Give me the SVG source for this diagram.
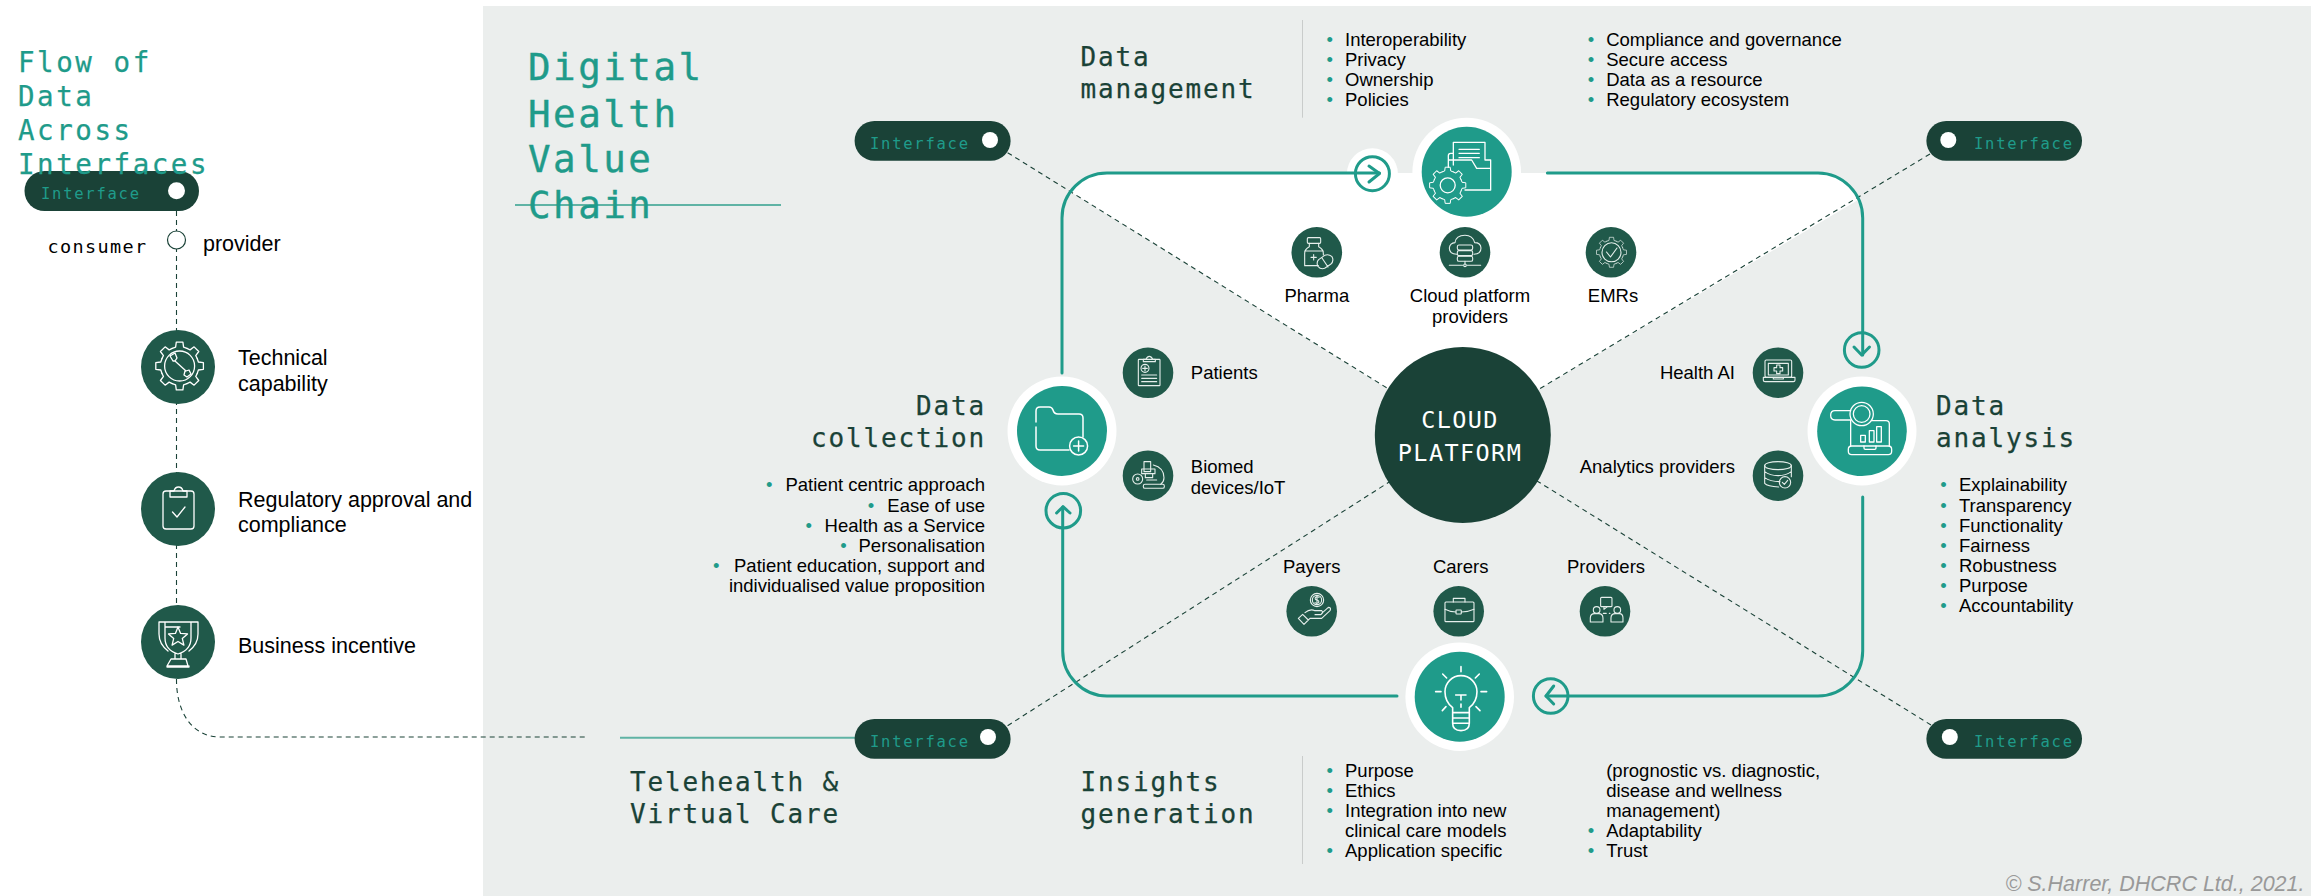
<svg xmlns="http://www.w3.org/2000/svg" width="2323" height="896" viewBox="0 0 2323 896">
<style>
text{font-family:"Liberation Sans",Arial,sans-serif;font-size:18.5px;fill:#000}
.m{font-family:"DejaVu Sans Mono","Liberation Mono",monospace}
.big{font-size:37.5px;letter-spacing:2.5px;fill:#1f9b8a;stroke:#1f9b8a;stroke-width:.4}
.side{font-size:27.5px;letter-spacing:2.55px;fill:#1f9b8a;stroke:#1f9b8a;stroke-width:.25}
.sec{font-size:26px;letter-spacing:1.85px;fill:#1a4237;stroke:#1a4237;stroke-width:.25}
.if{font-size:15.5px;letter-spacing:1.75px;fill:#1f9b8a}
.cp{font-size:23.5px;letter-spacing:1.4px;fill:#fff}
.con{font-size:18.5px;letter-spacing:1.36px}
.l{font-size:21.5px}
.b{fill:#1f9b8a}
.pill{fill:#1a4237}
.dot{fill:#fff}
.dash{fill:none;stroke:#1a4237;stroke-width:1.1;stroke-dasharray:5 4}
.tl{fill:none;stroke:#1f9b8a;stroke-width:3;stroke-linecap:round;stroke-linejoin:round}
.rule{stroke:#5fb3a5;stroke-width:2;fill:none}
.div{stroke:#c9cccb;stroke-width:1}
.n1{fill:#1f9b8a}
.n2{fill:#20594a}
.halo{fill:#fff}
.ic{fill:none;stroke:#fff;stroke-width:1.3;stroke-linecap:round;stroke-linejoin:round;vector-effect:non-scaling-stroke}
.ic *{vector-effect:non-scaling-stroke}
.sm{stroke:#e6efec;stroke-width:1.1}
</style>
<defs>
<path id="tooth" d="M17.7-7.3L18.8-4L23.8-3.3V3.3L18.8 4L17.7 7.3"/>
<g id="gear">
<use href="#tooth"/><use href="#tooth" transform="rotate(45)"/><use href="#tooth" transform="rotate(90)"/><use href="#tooth" transform="rotate(135)"/><use href="#tooth" transform="rotate(180)"/><use href="#tooth" transform="rotate(225)"/><use href="#tooth" transform="rotate(270)"/><use href="#tooth" transform="rotate(315)"/>
</g>
</defs>

<rect id="panel" x="483" y="6" width="1828" height="890" fill="#ebeeed"/>
<path id="white-area" d="M1069 191A45 45 0 0 1 1107 173H1818A45 45 0 0 1 1858 200L1462 435Z" fill="#fff"/>

<g id="connectors">
<path class="dash" d="M176.5 211V680C176.5 712 192 737 220 737H586"/>
<path class="dash" d="M1007.6 152.7L1462.8 435"/>
<path class="dash" d="M1930 154L1462.8 435"/>
<path class="dash" d="M1007.6 725.7L1462.8 435"/>
<path class="dash" d="M1931 725L1462.8 435"/>
<path class="rule" d="M515 205H781"/>
<path class="rule" d="M620 737.7H855"/>
<circle class="halo" cx="1372.4" cy="173.7" r="25.5"/>
<path class="tl" d="M1062 373V218A45 45 0 0 1 1107 173H1379.5"/>
<path class="tl" d="M1547.4 173H1818A45 45 0 0 1 1862.7 218V355"/>
<path class="tl" d="M1862.7 497V651A45 45 0 0 1 1818 696H1546"/>
<path class="tl" d="M1397 696H1107A45 45 0 0 1 1062.7 651V507"/>
<circle class="tl" cx="1372.4" cy="173.7" r="17"/><path class="tl" d="M1369 166L1379.5 173.5L1369 182"/>
<circle class="tl" cx="1861.7" cy="350" r="17.3"/><path class="tl" d="M1854 347L1861.7 355L1869.5 347"/>
<circle class="tl" cx="1550.7" cy="696" r="17.3"/><path class="tl" d="M1553.7 686L1546 696L1553.7 704"/>
<circle class="tl" cx="1063.3" cy="510.7" r="17.3"/><path class="tl" d="M1056.6 513L1063 506.7L1070 513"/>
</g>

<g id="interface-legend"><rect class="pill" x="24.5" y="171" width="174.5" height="40" rx="20"/><text class="m if" x="41" y="199">Interface</text><circle class="dot" cx="176.5" cy="190.7" r="8.5"/></g>
<g id="flow-title"><text class="m side" x="18" y="72">Flow of</text><text class="m side" x="18" y="105.6">Data</text><text class="m side" x="18" y="140">Across</text><text class="m side" x="18" y="174">Interfaces</text></g>
<g id="chain-title"><text class="m big" x="528" y="80">Digital</text><text class="m big" x="528" y="126.5">Health</text><text class="m big" x="528" y="172">Value</text><text class="m big" x="528" y="218">Chain</text></g>

<g id="consumer-provider"><circle cx="176.5" cy="240" r="9" fill="#fff" stroke="#1a4237" stroke-width="1.2"/><text class="m con" x="47.5" y="252.7">consumer</text><text class="l" x="203" y="251">provider</text></g>

<g id="technical-capability"><circle class="n2" cx="178" cy="367" r="37"/>
<g class="ic"><use href="#gear" transform="translate(179.6 366)"/><circle cx="179.6" cy="366" r="15"/><path d="M170 356L175 353L177 358L175 361L186 371L189 370L191 374L187 377L184 375L185 371M173 361L170 356M175 361L173 361"/></g>
<text class="l" x="238" y="365">Technical</text><text class="l" x="238" y="390.7">capability</text></g>

<g id="regulatory"><circle class="n2" cx="178" cy="509" r="37"/>
<g class="ic"><rect x="163" y="491" width="31" height="38" rx="3"/><path d="M170 491V497H187V491H183Q182 487 178.5 487Q175 487 174 491Z"/><path d="M172.5 512L177 517L185 507"/></g>
<text class="l" x="238" y="507">Regulatory approval and</text><text class="l" x="238" y="532">compliance</text></g>

<g id="business-incentive"><circle class="n2" cx="178" cy="642" r="37"/>
<g class="ic"><path d="M159 622H198V634Q198 644 189 651M159 622V634Q159 644 168 651M165 622V638Q165 650 178 654Q191 650 191 638V622M175 654V659M181 654V659M171 659H186L188 666H167ZM167 666V667H189V666M165 627H180"/><path transform="translate(178 637)" d="M0-10L2.6-3.6L9.5-3.1L4.3 1.4L5.9 8.1L0 4.5L-5.9 8.1L-4.3 1.4L-9.5-3.1L-2.6-3.6Z"/></g>
<text class="l" x="238" y="652.7">Business incentive</text></g>

<g id="interface-tl"><rect class="pill" x="854.6" y="121" width="156" height="39.7" rx="19.8"/><text class="m if" x="870" y="149">Interface</text><circle class="dot" cx="990" cy="140" r="8"/></g>
<g id="interface-tr"><rect class="pill" x="1926.4" y="121" width="155.6" height="39.7" rx="19.8"/><text class="m if" x="1974" y="149">Interface</text><circle class="dot" cx="1948.3" cy="140" r="8"/></g>
<g id="interface-bl"><rect class="pill" x="854.6" y="719" width="156" height="39.7" rx="19.8"/><text class="m if" x="870" y="747">Interface</text><circle class="dot" cx="988" cy="737" r="8"/></g>
<g id="interface-br"><rect class="pill" x="1926.4" y="719" width="155.6" height="39.7" rx="19.8"/><text class="m if" x="1974" y="747">Interface</text><circle class="dot" cx="1949.8" cy="737" r="8"/></g>

<g id="cloud-platform"><circle cx="1462.8" cy="435" r="88" fill="#1a4237"/><text class="m cp" x="1460" y="428.3" text-anchor="middle">CLOUD</text><text class="m cp" x="1460" y="460.7" text-anchor="middle">PLATFORM</text></g>

<g id="data-management"><circle class="halo" cx="1466.7" cy="172" r="54.3"/><circle class="n1" cx="1466.7" cy="171.7" r="45"/>
<g class="ic" transform="translate(1400 110) scale(.3333)"><path d="M160 165V97H255V150M177 118H238M177 130H238M177 143H238M145 165V137Q145 130 152 130H160M145 150H215L230 175H272V150H255M272 175V240H195M145 150V172"/></g>
<g class="ic"><use href="#gear" transform="translate(1447.7 185.3) scale(.76)"/><circle cx="1447.7" cy="185.3" r="7.5"/></g>
<text class="m sec" x="1080.6" y="65.7">Data</text><text class="m sec" x="1080.6" y="97.7">management</text>
<path class="div" d="M1302.5 20V117.7"/>
<text x="1326.4" y="46"><tspan class="b">•</tspan><tspan x="1345">Interoperability</tspan></text>
<text x="1326.4" y="66"><tspan class="b">•</tspan><tspan x="1345">Privacy</tspan></text>
<text x="1326.4" y="86"><tspan class="b">•</tspan><tspan x="1345">Ownership</tspan></text>
<text x="1326.4" y="106"><tspan class="b">•</tspan><tspan x="1345">Policies</tspan></text>
<text x="1587.8" y="46"><tspan class="b">•</tspan><tspan x="1606.2">Compliance and governance</tspan></text>
<text x="1587.8" y="66"><tspan class="b">•</tspan><tspan x="1606.2">Secure access</tspan></text>
<text x="1587.8" y="86"><tspan class="b">•</tspan><tspan x="1606.2">Data as a resource</tspan></text>
<text x="1587.8" y="106"><tspan class="b">•</tspan><tspan x="1606.2">Regulatory ecosystem</tspan></text>
</g>

<g id="data-collection"><circle class="halo" cx="1062" cy="431" r="54.5"/><circle class="n1" cx="1062" cy="431" r="45"/>
<g class="ic" style="stroke-width:1.5"><path d="M1036 422V411Q1036 407 1040 407H1049Q1052 407 1053 410Q1054 414 1058 414H1079Q1083 414 1083 418V437M1036 427V446Q1036 450 1040 450H1069"/><circle cx="1078.6" cy="446" r="9"/><path d="M1078.6 441V451M1073.6 446H1083.6"/></g>
<text class="m sec" x="986" y="415" text-anchor="end">Data</text><text class="m sec" x="986" y="446.7" text-anchor="end">collection</text>
<text y="491"><tspan class="b" x="766" text-anchor="start">•</tspan><tspan x="985" text-anchor="end">Patient centric approach</tspan></text>
<text y="511.5"><tspan class="b" x="867.8" text-anchor="start">•</tspan><tspan x="985" text-anchor="end">Ease of use</tspan></text>
<text y="532"><tspan class="b" x="805.5" text-anchor="start">•</tspan><tspan x="985" text-anchor="end">Health as a Service</tspan></text>
<text y="552"><tspan class="b" x="840.2" text-anchor="start">•</tspan><tspan x="985" text-anchor="end">Personalisation</tspan></text>
<text y="572"><tspan class="b" x="713" text-anchor="start">•</tspan><tspan x="985" text-anchor="end">Patient education, support and</tspan></text>
<text x="985" y="592" text-anchor="end">individualised value proposition</text>
</g>

<g id="data-analysis"><circle class="halo" cx="1862" cy="431" r="54.5"/><circle class="n1" cx="1862" cy="431.3" r="44.8"/>
<g class="ic" transform="translate(1800 360) scale(.3333)"><circle cx="185" cy="162" r="35"/><circle cx="185" cy="162" r="25"/><path d="M152 152H105Q92 152 92 166Q92 180 105 180H150M152 180V258M215 182H258Q268 182 268 192V258"/><rect x="145" y="258" width="130" height="26" rx="10"/><path d="M192 258V264Q192 268 196 268H224Q228 268 228 264V258"/><rect x="182" y="226" width="14" height="20"/><rect x="208" y="212" width="14" height="34"/><rect x="230" y="200" width="14" height="46"/></g>
<text class="m sec" x="1936" y="415">Data</text><text class="m sec" x="1936" y="446.7">analysis</text>
<text x="1940.3" y="491"><tspan class="b">•</tspan><tspan x="1959">Explainability</tspan></text>
<text x="1940.3" y="512"><tspan class="b">•</tspan><tspan x="1959">Transparency</tspan></text>
<text x="1940.3" y="532"><tspan class="b">•</tspan><tspan x="1959">Functionality</tspan></text>
<text x="1940.3" y="552"><tspan class="b">•</tspan><tspan x="1959">Fairness</tspan></text>
<text x="1940.3" y="572"><tspan class="b">•</tspan><tspan x="1959">Robustness</tspan></text>
<text x="1940.3" y="592"><tspan class="b">•</tspan><tspan x="1959">Purpose</tspan></text>
<text x="1940.3" y="612"><tspan class="b">•</tspan><tspan x="1959">Accountability</tspan></text>
</g>

<g id="insights-generation"><circle class="halo" cx="1459.7" cy="696.7" r="54.3"/><circle class="n1" cx="1459.7" cy="696.7" r="45"/>
<g class="ic" transform="translate(1280 580) scale(.3333)" style="stroke-width:1.6"><path d="M518 398V383Q495 365 495 335A48 48 0 0 1 591 335Q591 365 568 383V398M518 398H568V430Q568 452 543 452Q518 452 518 430ZM518 414H568M518 430H568M527 345H558M543 345V360M543 372V382M543 260V275M488 282L500 294M598 282L586 294M467 335H483M603 335H620M487 392L498 380M600 392L588 380"/></g>
<text class="m sec" x="1080.6" y="790.7">Insights</text><text class="m sec" x="1080.6" y="822.7">generation</text>
<path class="div" d="M1302.5 756V864"/>
<text x="1326.4" y="776.7"><tspan class="b">•</tspan><tspan x="1345">Purpose</tspan></text>
<text x="1326.4" y="796.7"><tspan class="b">•</tspan><tspan x="1345">Ethics</tspan></text>
<text x="1326.4" y="816.7"><tspan class="b">•</tspan><tspan x="1345">Integration into new</tspan></text>
<text x="1345" y="836.7">clinical care models</text>
<text x="1326.4" y="856.7"><tspan class="b">•</tspan><tspan x="1345">Application specific</tspan></text>
<text x="1606.2" y="776.7">(prognostic vs. diagnostic,</text>
<text x="1606.2" y="796.7">disease and wellness</text>
<text x="1606.2" y="816.7">management)</text>
<text x="1587.8" y="836.7"><tspan class="b">•</tspan><tspan x="1606.2">Adaptability</tspan></text>
<text x="1587.8" y="856.7"><tspan class="b">•</tspan><tspan x="1606.2">Trust</tspan></text>
</g>

<g id="telehealth"><text class="m sec" x="630" y="790.7">Telehealth &amp;</text><text class="m sec" x="630" y="822.7">Virtual Care</text></g>

<g id="pharma"><circle class="n2" cx="1316.8" cy="252.3" r="25.3"/>
<g class="ic sm" transform="translate(1290 225) scale(.3333)"><rect x="52" y="38" width="40" height="17" rx="3"/><path d="M58 55V65Q44 72 44 85V122H85M100 90V85Q100 72 86 65V55M44 78H100M63 97H79M71 89V105"/><path d="M86 104L104 91Q116 86 126 95Q133 108 122 118L104 130Q92 134 84 124Q78 112 86 104ZM96 99L114 126"/></g>
<text x="1316.8" y="301.7" text-anchor="middle">Pharma</text></g>

<g id="cloud-providers"><circle class="n2" cx="1465" cy="252.3" r="25.3"/>
<g class="ic sm" transform="translate(1400 110) scale(.3333)"><path d="M170 433Q148 432 148 414Q150 399 165 398Q168 376 195 376Q218 376 224 398Q242 398 243 414Q243 432 222 433"/><rect x="172" y="405" width="46" height="15" rx="5"/><rect x="172" y="422" width="46" height="15" rx="5"/><rect x="172" y="439" width="46" height="15" rx="5"/><path d="M195 454V462M148 466H188M202 466H242"/><circle cx="195" cy="466" r="4"/></g>
<text x="1470" y="301.7" text-anchor="middle">Cloud platform</text><text x="1470" y="323" text-anchor="middle">providers</text></g>

<g id="emrs"><circle class="n2" cx="1611" cy="252.3" r="25.3"/>
<g class="ic sm"><use href="#gear" transform="translate(1611.5 252.3) scale(.63)"/><circle cx="1611.5" cy="252.3" r="9.5"/><path d="M1606.5 252L1610.5 257L1617 248"/></g>
<text x="1613" y="301.7" text-anchor="middle">EMRs</text></g>

<g id="patients"><circle class="n2" cx="1148" cy="372.8" r="25.3"/>
<g class="ic sm" transform="translate(1120 345) scale(.3333)"><rect x="55" y="43" width="65" height="79" rx="2"/><path d="M70 50V43H78Q82 34 88 34Q94 34 98 43H106V50H70ZM65 90H110M65 100H110M65 110H110"/><circle cx="75" cy="70" r="12"/><path d="M75 63V77M68 70H82"/></g>
<text x="1190.8" y="379">Patients</text></g>

<g id="biomed"><circle class="n2" cx="1148" cy="475.7" r="25.3"/>
<g class="ic sm" transform="translate(1120 345) scale(.3333)"><rect x="72" y="350" width="20" height="30"/><path d="M65 372H105V386H65ZM76 386V398H98V386M100 360Q132 368 132 398Q132 410 122 418M110 405H80"/><rect x="70" y="418" width="63" height="12" rx="5"/><circle cx="53" cy="402" r="15"/><circle cx="53" cy="402" r="4"/></g>
<text x="1190.8" y="472.7">Biomed</text><text x="1190.8" y="494">devices/IoT</text></g>

<g id="health-ai"><circle class="n2" cx="1778" cy="372.7" r="25.3"/>
<g class="ic sm" transform="translate(1750 345) scale(.3333)"><rect x="45" y="45" width="80" height="52" rx="4"/><rect x="55" y="55" width="60" height="35"/><path d="M80 60H90V68H98V78H90V86H80V78H72V68H80Z"/><path d="M40 97H135V106Q135 110 130 110H45Q40 110 40 106ZM70 97V102H100V97"/></g>
<text x="1735" y="379" text-anchor="end">Health AI</text></g>

<g id="analytics"><circle class="n2" cx="1778" cy="475.7" r="25.3"/>
<g class="ic sm" transform="translate(1750 345) scale(.3333)"><ellipse cx="84" cy="362" rx="40" ry="12"/><path d="M44 362V415Q52 424 86 426M124 362V395M44 380Q60 392 84 392Q108 392 124 380M44 398Q60 410 90 410"/><circle cx="105" cy="412" r="17"/><path d="M97 412L103 418L113 406"/></g>
<text x="1735" y="472.7" text-anchor="end">Analytics providers</text></g>

<g id="payers"><circle class="n2" cx="1311.7" cy="611.3" r="25.3"/>
<g class="ic sm" transform="translate(1280 580) scale(.3333)"><circle cx="111" cy="60" r="20"/><circle cx="111" cy="60" r="14"/><path d="M117 52Q111 48 106 53Q104 59 111 60Q118 62 116 68Q110 72 105 68M111 46V74"/><path d="M75 98Q90 85 105 92H125Q132 98 122 104H105M125 100L145 82Q155 82 150 92L125 115H90L80 125M55 115L72 133L85 120L68 103Z"/></g>
<text x="1311.7" y="572.7" text-anchor="middle">Payers</text></g>

<g id="carers"><circle class="n2" cx="1458.7" cy="611.3" r="25.3"/>
<g class="ic sm" transform="translate(1280 580) scale(.3333)"><rect x="495" y="66" width="87" height="59" rx="3"/><path d="M520 66V55H555V66M495 88Q510 96 528 96M544 96Q565 96 582 88"/><rect x="528" y="90" width="16" height="12" rx="2"/></g>
<text x="1460.7" y="572.7" text-anchor="middle">Carers</text></g>

<g id="providers"><circle class="n2" cx="1605" cy="611.3" r="25.3"/>
<g class="ic sm" transform="translate(1280 580) scale(.3333)"><rect x="962" y="52" width="34" height="28" rx="3"/><path d="M972 80V88L982 80"/><circle cx="950" cy="90" r="10"/><path d="M931 126V114Q931 101 944 101H956Q969 101 969 114V126Z"/><circle cx="1012" cy="90" r="10"/><path d="M993 126V114Q993 101 1006 101H1018Q1029 101 1029 114V126Z"/><path d="M970 100H990" stroke-dasharray="3 3"/></g>
<text x="1606" y="572.7" text-anchor="middle">Providers</text></g>

<text id="credit" x="2304.5" y="890.7" text-anchor="end" style="font-size:21.5px;font-style:italic;fill:#999">© S.Harrer, DHCRC Ltd., 2021.</text>
</svg>
